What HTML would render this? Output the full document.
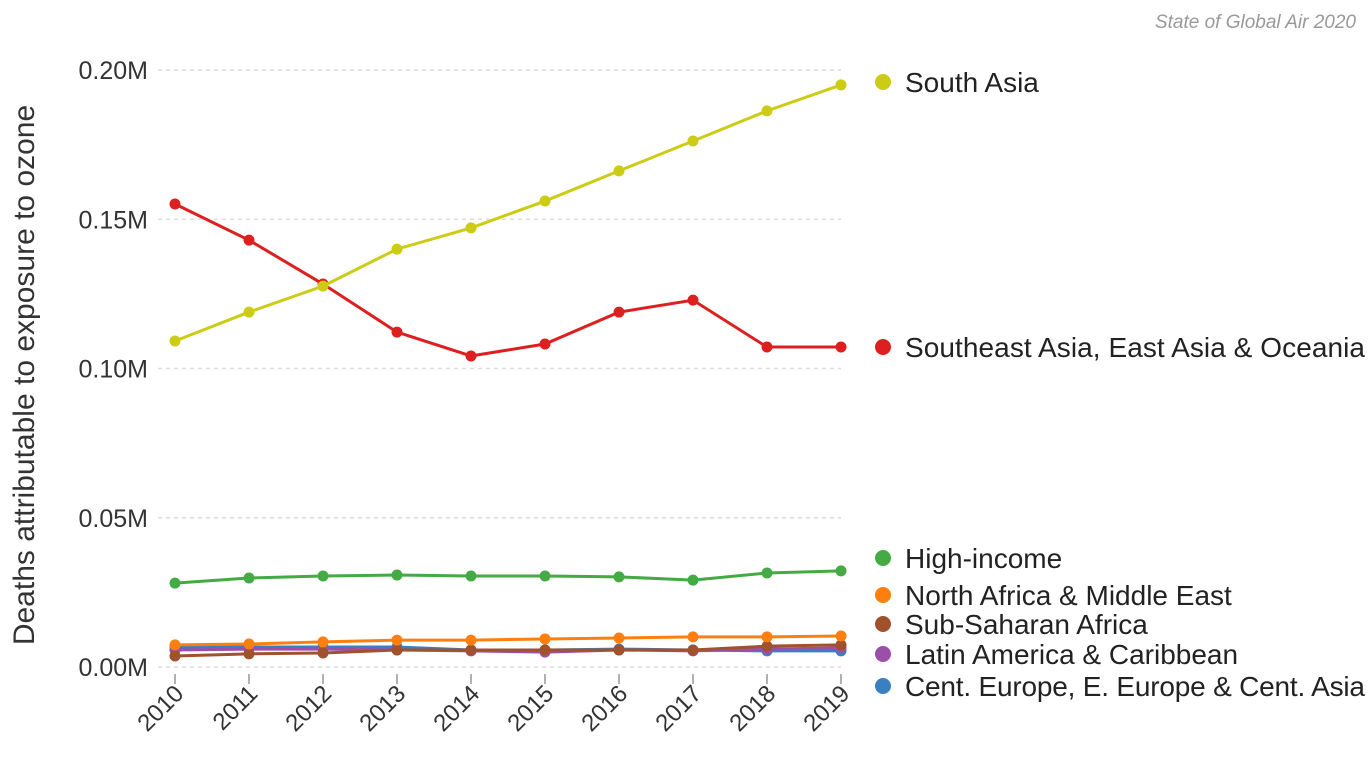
<!DOCTYPE html>
<html><head><meta charset="utf-8"><style>
body{margin:0;background:#fff;font-family:"Liberation Sans",sans-serif}
svg{display:block}
</style></head><body>
<svg id="c" width="1372" height="761">
<text x="1356" y="28" text-anchor="end" font-style="italic" font-size="19" fill="#999">State of Global Air 2020</text>
<text transform="translate(34,375) rotate(-90)" text-anchor="middle" font-size="30" fill="#333">Deaths attributable to exposure to ozone</text>
<g id="grid"></g><g id="series"></g><g id="legend"></g>
</svg>
<script>
const years=[2010,2011,2012,2013,2014,2015,2016,2017,2018,2019];
const yTicks=[0,0.05,0.10,0.15,0.20];
const yTickLabels=["0.00M","0.05M","0.10M","0.15M","0.20M"];
const seriesNames=["South Asia","Southeast Asia, East Asia & Oceania","High-income","North Africa & Middle East","Sub-Saharan Africa","Latin America & Caribbean","Cent. Europe, E. Europe & Cent. Asia"];
const seriesColors=["#cccc14","#dd1f1f","#44aa44","#ff7f0e","#a0522d","#9c4fa8","#3a7fbf"];
const southAsia=[0.1092,0.1189,0.1276,0.1400,0.1471,0.1561,0.1662,0.1762,0.1863,0.1950];
const seAsia=[0.1551,0.1430,0.1283,0.1122,0.1042,0.1082,0.1189,0.1229,0.1072,0.1072];
const highIncome=[0.0281,0.0298,0.0305,0.0308,0.0305,0.0305,0.0302,0.0291,0.0315,0.0322];
const nAfrica=[0.0074,0.0077,0.0084,0.0090,0.0090,0.0094,0.0097,0.0101,0.0101,0.0104];
const subSaharan=[0.0037,0.0044,0.0047,0.0057,0.0057,0.0057,0.0057,0.0057,0.0070,0.0074];
const latinAm=[0.0057,0.0060,0.0060,0.0057,0.0054,0.0050,0.0057,0.0054,0.0060,0.0064];
const centEurope=[0.0067,0.0067,0.0067,0.0067,0.0057,0.0057,0.0060,0.0057,0.0054,0.0054];
const legendY=[82,347,558,595,624,654,686];
const allSeries=[southAsia,seAsia,highIncome,nAfrica,subSaharan,latinAm,centEurope];
const NS="http://www.w3.org/2000/svg";
const x=yr=>175+(yr-2010)*(841-175)/9;
const y=v=>667-v/0.20*597;
function mk(tag,attrs,parent,txt){const e=document.createElementNS(NS,tag);for(const k in attrs)e.setAttribute(k,attrs[k]);if(txt!=null)e.textContent=txt;parent.appendChild(e);return e;}
const grid=document.getElementById('grid');
yTicks.forEach((t,i)=>{
  if(t>0){const l=mk('line',{x1:158,x2:841,y1:y(t),y2:y(t),stroke:'#ddd','stroke-dasharray':'4,4','stroke-width':1.5},grid);
  
  }
  const tx=mk('text',{x:148,y:y(t)+9,'text-anchor':'end','font-size':25,fill:'#333'},grid,yTickLabels[i]);
  
  
});
mk('line',{x1:158,x2:841,y1:667,y2:667,stroke:'#ddd','stroke-dasharray':'4,4','stroke-width':1.5},grid);
years.forEach(yr=>{
  const tk=mk('line',{x1:x(yr),x2:x(yr),y1:674,y2:684,stroke:'#666','stroke-width':1},grid);
  
  
  const tx=mk('text',{transform:`translate(${x(yr)+10},${695}) rotate(-45)`,'text-anchor':'end','font-size':24,fill:'#333'},grid,yr);
  
  
});
const sg=document.getElementById('series');
for(let s=allSeries.length-1;s>=0;s--){
  const d=allSeries[s].map((v,i)=>(i?'L':'M')+x(years[i])+','+y(v)).join('');
  const g=mk('g',{},sg);
  
  
  mk('path',{d:d,fill:'none',stroke:seriesColors[s],'stroke-width':3},g);
  allSeries[s].forEach((v,i)=>{
    const c=mk('circle',{cx:x(years[i]),cy:y(v),r:5.5,fill:seriesColors[s]},g);
    
    
  });
}
const lg=document.getElementById('legend');
seriesNames.forEach((n,i)=>{
  const g=mk('g',{},lg);
  
  
  mk('circle',{cx:883,cy:legendY[i],r:8,fill:seriesColors[i]},g);
  mk('text',{x:905,y:legendY[i]+10,'font-size':28,fill:'#222',textLength:n.length>30?460:null},g,n);
});
</script>
</body></html>
